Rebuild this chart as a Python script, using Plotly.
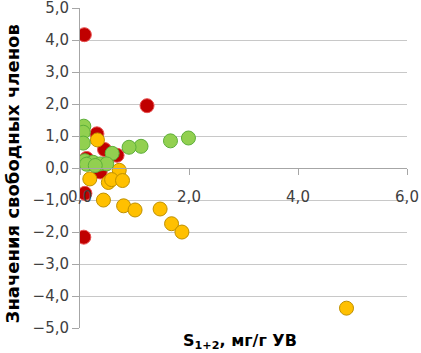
import plotly.graph_objects as go

red_x = [0.08, 1.23, 0.31, 0.45, 0.68, 0.12, 0.37, 0.09, 0.07]
red_y = [4.17, 1.95, 1.07, 0.58, 0.40, 0.30, -0.12, -0.79, -2.16]

yellow_x = [0.32, 0.18, 0.72, 0.52, 0.58, 0.78, 0.43, 0.80, 1.01, 1.47, 1.68, 1.87, 4.89]
yellow_y = [0.88, -0.34, -0.07, -0.45, -0.36, -0.39, -1.00, -1.18, -1.31, -1.28, -1.74, -2.00, -4.38]

green_x = [0.07, 0.06, 0.06, 1.99, 1.66, 1.12, 0.90, 0.59, 0.09, 0.15, 0.24, 0.37, 0.49, 0.12, 0.28]
green_y = [1.31, 1.12, 0.78, 0.94, 0.85, 0.68, 0.65, 0.46, 0.23, 0.13, 0.18, 0.13, 0.13, 0.12, 0.08]

x_ticks = [0, 2, 4, 6]
y_ticks = [-5, -4, -3, -2, -1, 0, 1, 2, 3, 4, 5]

fig = go.Figure()
fig.add_trace(go.Scatter(x=red_x, y=red_y, mode="markers",
                         marker=dict(size=14, color="#C00000", line=dict(color="#E85050", width=1))))
fig.add_trace(go.Scatter(x=yellow_x, y=yellow_y, mode="markers",
                         marker=dict(size=14, color="#FFC000", line=dict(color="#BF9000", width=1))))
fig.add_trace(go.Scatter(x=green_x, y=green_y, mode="markers",
                         marker=dict(size=14, color="#92D050", line=dict(color="#5DAF3A", width=1))))

fig.update_layout(
    width=421, height=353,
    margin=dict(l=80, r=14, t=8, b=25),
    plot_bgcolor="white", paper_bgcolor="white",
    showlegend=False,
    separators=", ",
    font=dict(family="DejaVu Sans", size=15, color="#404040"),
    xaxis=dict(range=[0, 6], tickvals=x_ticks, tickformat=".1f",
               showgrid=False, zeroline=False,
               showline=True, linecolor="#A6A6A6", linewidth=1,
               ticks="outside", ticklen=6, tickcolor="#A6A6A6",
               anchor="free", position=0.5, ticklabelstandoff=9,
               ticklabeloverflow="allow", automargin=False,
               tickfont=dict(size=15, color="#404040")),
    yaxis=dict(range=[-5, 5.004], tickvals=y_ticks, tickformat=".1f",
               showgrid=True, gridcolor="#C8C8C8", gridwidth=1,
               zeroline=False,
               showline=True, linecolor="#A6A6A6", linewidth=1,
               ticks="outside", ticklen=7, tickcolor="#A6A6A6",
               ticklabeloverflow="allow", automargin=False,
               tickfont=dict(size=15, color="#404040")),
    annotations=[
        dict(text="<b>S<sub>1+2</sub>, мг/г УВ</b>", xref="paper", yref="paper",
             x=0.49, y=0, yshift=-26, xanchor="center", yanchor="bottom",
             showarrow=False, font=dict(size=16, color="#000000")),
        dict(text="<b>Значения свободных членов</b>", xref="paper", yref="paper",
             x=0, xshift=-68, y=0.48, xanchor="center", yanchor="middle",
             textangle=-90, showarrow=False, font=dict(size=18, color="#000000")),
    ],
)

fig.write_html("out.html", config={"displayModeBar": False},
               post_script="document.body.style.margin='0px';document.body.style.overflow='hidden';")
